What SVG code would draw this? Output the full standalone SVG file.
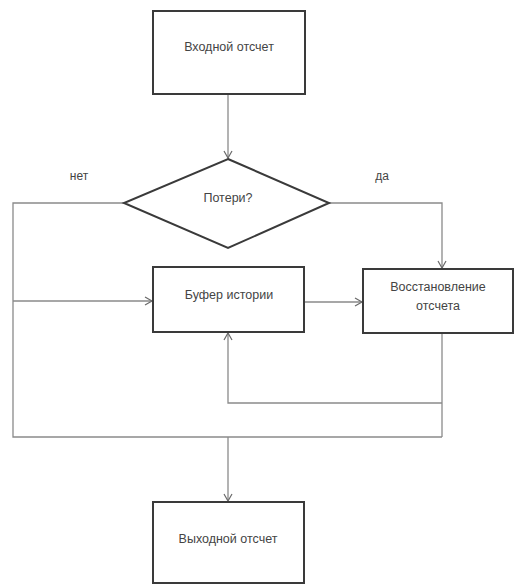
<svg xmlns="http://www.w3.org/2000/svg" width="514" height="584" viewBox="0 0 514 584">
<style>
.box{fill:#fff;stroke:#3a3a3a;stroke-width:2}
.ln{fill:none;stroke:#8a8a8a;stroke-width:1.3}
.t{font-family:"Liberation Sans",Arial,sans-serif;font-size:12.5px;fill:#444;text-anchor:middle}
.s{font-size:12px}
</style>
<defs>
<marker id="a" markerWidth="10" markerHeight="10" refX="8" refY="5" orient="auto" markerUnits="userSpaceOnUse">
<path d="M1,1 L8,5 L1,9" fill="none" stroke="#6a6a6a" stroke-width="1.2"/>
</marker>
</defs>
<rect width="514" height="584" fill="#fff"/>
<g id="connectors">
<line class="ln" x1="228" y1="94" x2="228" y2="158" marker-end="url(#a)"/>
<polyline class="ln" points="124,203 13,203 13,437 442,437"/>
<polyline class="ln" points="329,203 442,203 442,268" marker-end="url(#a)"/>
<line class="ln" x1="13" y1="301" x2="152" y2="301" marker-end="url(#a)"/>
<line class="ln" x1="304" y1="302" x2="362" y2="302" marker-end="url(#a)"/>
<polyline class="ln" points="442,333 442,437"/>
<polyline class="ln" points="442,403 228,403 228,333" marker-end="url(#a)"/>
<line class="ln" x1="228" y1="437" x2="228" y2="501" marker-end="url(#a)"/>
<text class="t s" x="79" y="180">нет</text>
<text class="t s" x="382" y="180">да</text>
</g>
<g id="input">
<rect class="box" x="153" y="11" width="152" height="83"/>
<text class="t" x="229" y="51">Входной отсчет</text>
</g>
<g id="decision">
<polygon class="box" points="228,159 329,203 228,248 124,203"/>
<text class="t" x="228" y="202">Потери?</text>
</g>
<g id="buffer">
<rect class="box" x="153" y="267" width="151" height="65"/>
<text class="t" x="229" y="299">Буфер истории</text>
</g>
<g id="recovery">
<rect class="box" x="363" y="269" width="150" height="64"/>
<text class="t" x="438" y="291">Восстановление</text>
<text class="t" x="438" y="310">отсчета</text>
</g>
<g id="output">
<rect class="box" x="153" y="502" width="151" height="81"/>
<text class="t" x="228" y="543">Выходной отсчет</text>
</g>
</svg>
